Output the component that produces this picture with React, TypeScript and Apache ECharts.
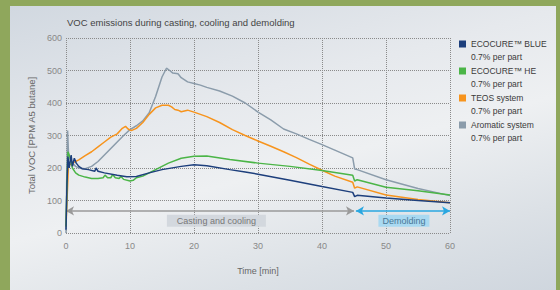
import React, { useEffect, useRef } from "react";
import * as echarts from "echarts";

const seriesNames = ["ECOCURE™ BLUE", "ECOCURE™ HE", "TEOS system", "Aromatic system"];
const seriesColors = ["#1d3f7c", "#4bb547", "#f7941d", "#8b9cab"];
const subLabel = "0.7% per part";

const blueT = [0, 0.15, 0.3, 0.5, 0.8, 1.0, 1.3, 1.6, 2.0, 2.5, 3.5, 4.5, 4.7, 5.0, 6, 8, 9.5, 11, 13, 15, 18, 20, 22, 25.6, 28, 30, 35, 40, 44.8, 45.1, 45.5, 50, 55, 60];
const blueV = [10, 150, 235, 200, 240, 205, 230, 215, 205, 198, 195, 190, 200, 190, 185, 178, 173, 174, 185, 195, 205, 210, 207, 195, 188, 181, 162, 143, 125, 112, 116, 108, 100, 93];

const greenT = [0, 0.15, 0.3, 0.6, 1, 1.5, 2, 3, 4, 5, 5.8, 6.1, 6.5, 7, 7.3, 7.7, 8.3, 8.6, 9, 10, 10.5, 11, 12, 14, 16, 18, 20, 22, 25.6, 30, 35, 40, 44.8, 45.1, 45.5, 50, 55, 60];
const greenV = [20, 150, 250, 235, 200, 185, 178, 172, 168, 168, 170, 178, 170, 170, 180, 170, 168, 174, 165, 160, 162, 170, 175, 195, 215, 230, 236, 237, 226, 215, 205, 192, 178, 160, 164, 141, 130, 117];

const orangeT = [0, 0.2, 0.4, 0.7, 1, 2, 3, 4, 5, 6, 7, 8, 8.8, 9.3, 9.7, 10.2, 11, 12, 13, 14, 15, 16, 16.5, 17, 17.5, 18, 19, 20, 22, 24, 26, 28, 30, 32, 34, 36, 38, 40, 42, 44.8, 45.1, 45.5, 50, 55, 60];
const orangeV = [20, 120, 215, 210, 215, 225, 238, 250, 265, 280, 295, 305, 322, 328, 320, 315, 322, 340, 365, 385, 393, 393, 388, 380, 378, 373, 378, 372, 358, 340, 318, 300, 283, 267, 250, 232, 212, 193, 175, 156, 138, 142, 117, 103, 93];

const grayT = [0, 0.1, 0.25, 0.4, 0.6, 1, 1.5, 2, 3, 4, 5, 6, 7, 8, 9, 10, 11, 12, 13, 14, 15, 15.7, 16.2, 16.7, 17.5, 18, 19, 20, 21, 22, 24, 26, 28, 30, 32, 34, 36, 38, 40, 42, 44.8, 45.1, 45.5, 50, 55, 60];
const grayV = [0, 150, 315, 240, 230, 215, 205, 200, 198, 205, 220, 240, 260, 280, 300, 318, 330, 345, 370, 420, 480, 507, 500, 492, 490, 478, 465, 460, 455, 448, 437, 421, 400, 372, 348, 320, 305, 288, 272, 255, 231, 197, 195, 164, 137, 115];

const xTicks = [0, 10, 20, 30, 40, 50, 60];
const yTicks = [0, 100, 200, 300, 400, 500, 600];

const phases = [
  { name: "Casting and cooling", from: 0, to: 45, mid: 23.5, color: "#9a9a9a", box: "#d3d8de", text: "#777", w: 99 },
  { name: "Demolding", from: 45.3, to: 60, mid: 52.8, color: "#2aa7e0", box: "#a9d9f1", text: "#4a7896", w: 51 },
];
const arrowLevel = 68;
const boxLevel = 38;

const FONT = "'Liberation Sans', Arial, sans-serif";

function pairs(t: number[], v: number[]) {
  return t.map((x, i) => [x, v[i]]);
}

export default function App() {
  const ref = useRef<HTMLDivElement>(null);

  useEffect(() => {
    if (!ref.current) return;
    const chart = echarts.init(ref.current, undefined, { renderer: "svg" });
    const datasets = [pairs(blueT, blueV), pairs(greenT, greenV), pairs(orangeT, orangeV), pairs(grayT, grayV)];

    const series: any[] = seriesNames.map((name, i) => ({
      name,
      type: "line",
      data: datasets[i],
      showSymbol: false,
      symbol: "none",
      smooth: false,
      z: 10 - i,
      lineStyle: { color: seriesColors[i], width: 1.5 },
      itemStyle: { color: seriesColors[i] },
    }));

    series.push({
      name: "phases",
      type: "line",
      data: [],
      silent: true,
      markLine: {
        silent: true,
        symbol: ["arrow", "arrow"],
        symbolSize: [7, 8],
        label: { show: false },
        data: phases.map((p) => [
          { coord: [p.from, arrowLevel], lineStyle: { color: p.color, width: 1.5, type: "solid" }, itemStyle: { color: p.color } },
          { coord: [p.to, arrowLevel] },
        ]),
      },
      markPoint: {
        silent: true,
        data: phases.map((p) => ({
          coord: [p.mid, boxLevel],
          symbol: "rect",
          symbolSize: [p.w, 12],
          itemStyle: { color: p.box },
          label: { show: true, position: "inside", formatter: p.name, color: p.text, fontSize: 9, fontFamily: FONT },
        })),
      },
    });

    chart.setOption({
      animation: false,
      backgroundColor: "transparent",
      textStyle: { fontFamily: FONT },
      title: {
        text: "VOC emissions during casting, cooling and demolding",
        left: 62,
        top: 12,
        textStyle: { fontSize: 9.5, fontWeight: "normal", color: "#444", fontFamily: FONT },
      },
      legend: {
        data: seriesNames.map((n, i) => ({ name: n, icon: "rect", itemStyle: { color: seriesColors[i] } })),
        orient: "vertical",
        left: 459,
        top: 39,
        itemWidth: 7,
        itemHeight: 7,
        itemGap: 17,
        padding: 0,
        textStyle: { fontSize: 8.5, color: "#3a3a3a", fontFamily: FONT, lineHeight: 10 },
      },
      graphic: seriesNames.map((_, i) => ({
        type: "text",
        left: 471,
        top: 52 + i * 27,
        style: { text: subLabel, fontSize: 8.5, fill: "#3a3a3a", fontFamily: FONT },
      })),
      grid: { left: 66, right: 110, top: 38, bottom: 57, containLabel: false },
      xAxis: {
        type: "value",
        min: 0,
        max: 60,
        interval: 10,
        name: "Time [min]",
        nameLocation: "middle",
        nameGap: 33,
        nameTextStyle: { fontSize: 9, color: "#666", fontFamily: FONT },
        axisLine: { show: false },
        axisTick: { show: false },
        axisLabel: { fontSize: 9, color: "#888", margin: 8, fontFamily: FONT, customValues: xTicks },
        splitLine: { show: true, lineStyle: { type: "dotted", color: "#8a8a8a", width: 1 } },
      },
      yAxis: {
        type: "value",
        min: 0,
        max: 600,
        interval: 100,
        name: "Total VOC [PPM A5 butane]",
        nameLocation: "middle",
        nameGap: 30,
        nameTextStyle: { fontSize: 9.5, color: "#666", fontFamily: FONT },
        axisLine: { show: false },
        axisTick: { show: false },
        axisLabel: { fontSize: 9, color: "#888", margin: 4, fontFamily: FONT, customValues: yTicks },
        splitLine: { show: true, lineStyle: { type: "dotted", color: "#8a8a8a", width: 1 } },
      },
      series,
    });
    return () => chart.dispose();
  }, []);

  return (
    <div style={{ position: "fixed", left: 0, top: 0, width: 560, height: 290, background: "#8fa75c", overflow: "hidden" }}>
      <div
        style={{
          position: "absolute",
          left: 10,
          top: 6,
          width: 546,
          height: 284,
          background: "linear-gradient(165deg, #d1d8e0 0%, #e6e9ed 35%, #eef0f2 55%, #dce1e6 80%, #cfd6de 100%)",
        }}
      />
      <div ref={ref} style={{ position: "absolute", left: 0, top: 0, width: 560, height: 290 }} />
    </div>
  );
}
